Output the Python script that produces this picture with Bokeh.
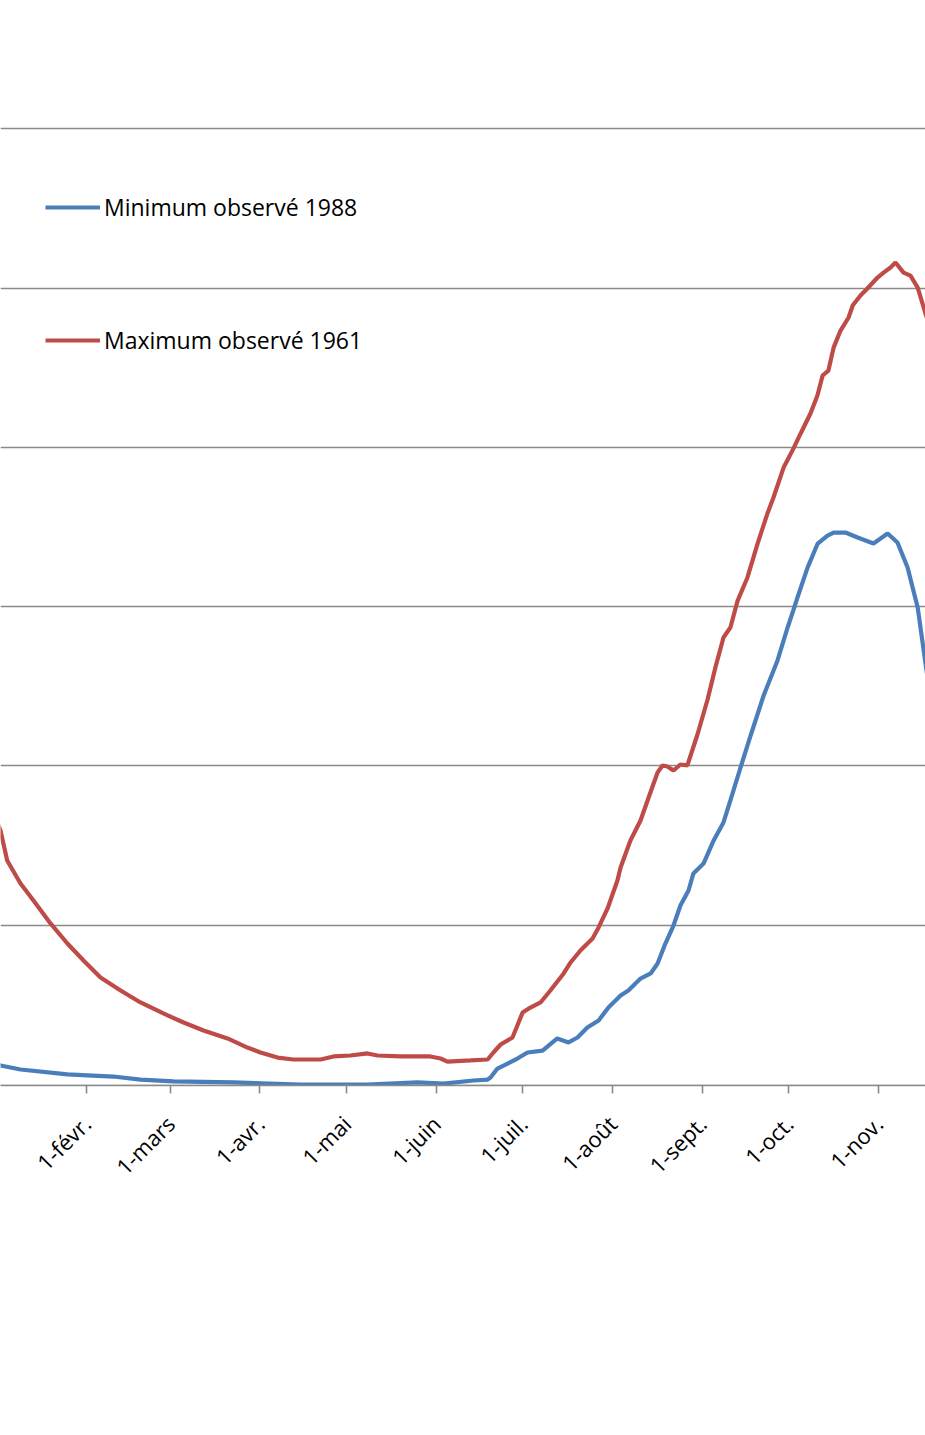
import math
from bokeh.plotting import figure
from bokeh.models import FixedTicker, Grid, Legend, LegendItem, Range1d
from bokeh.embed import file_html
from bokeh.resources import INLINE

# Day of year (0 = 1 Jan, leap year) and values
min_days = [0, 1.25, 8.2, 24.4, 40.3, 49.7, 61.1, 81.9, 105.1, 128.2, 145.5, 154.5, 164.9,
            169.8, 170.8, 173.2, 175.3, 180.1, 183.6, 188.8, 193.9, 197.8, 200.9, 204.3,
            208.2, 211.6, 215.8, 218.5, 222.7, 226.2, 228.6, 231.3, 234.1, 236.5, 239.3,
            241.0, 244.5, 248.0, 251.4, 253.8, 257.3, 260.8, 265.3, 270.1, 273.6, 277.0,
            280.5, 284.0, 287.4, 289.5, 293.6, 297.8, 303.3, 308.2, 311.6, 315.1, 318.6,
            321.3, 323.7]
min_vals = [13.2, 11.9, 9.4, 6.3, 5.0, 3.1, 1.9, 1.3, 0.0, 0.0, 1.3, 0.6, 2.5,
            3.1, 4.4, 10.0, 11.9, 16.3, 20.1, 21.3, 28.9, 26.4, 29.5, 35.8,
            40.2, 48.3, 55.9, 59.0, 66.5, 69.7, 76.0, 88.5, 99.8, 112.4, 121.8,
            132.5, 138.7, 153.2, 164.5, 178.3, 199.0, 219.1, 244.2, 266.2, 286.9, 305.7,
            324.5, 339.6, 344.6, 346.5, 346.5, 343.4, 339.6, 345.9, 340.2, 324.5, 299.4,
            264.3, 234.8]

max_days = [0, 1.25, 3.56, 8.17, 12.66, 18.55, 24.4, 29.97, 35.85, 42.8, 49.7, 57.6, 64.6,
            71.5, 79.8, 86.7, 91.2, 97.1, 102.6, 112.0, 116.5, 122.3, 128.2, 131.7, 139.7,
            150.0, 153.5, 155.9, 163.9, 169.8, 171.8, 174.3, 178.4, 181.9, 184.6, 188.1,
            191.5, 196.1, 198.5, 201.9, 206.1, 208.2, 211.3, 214.7, 215.8, 219.2, 222.7,
            225.5, 228.6, 230.3, 232.0, 234.1, 236.5, 238.9, 242.4, 245.9, 248.6, 251.4,
            253.8, 256.3, 259.7, 263.2, 266.6, 268.7, 272.2, 275.6, 278.1, 281.5, 283.9,
            285.7, 287.7, 289.5, 291.9, 294.7, 296.1, 298.8, 301.2, 304.7, 306.8, 309.2,
            310.9, 313.7, 316.1, 318.6, 321.3, 324.8]
max_vals = [165.0, 159.4, 140.6, 126.2, 115.5, 101.1, 88.5, 77.8, 67.2, 59.0, 51.5, 44.6, 38.9,
            33.9, 28.9, 23.2, 20.1, 16.9, 15.7, 15.7, 17.6, 18.2, 19.5, 18.2, 17.6,
            17.6, 16.3, 14.4, 15.1, 15.7, 20.1, 25.1, 29.5, 45.2, 48.3, 51.5,
            59.0, 69.7, 76.6, 84.1, 91.7, 98.6, 110.5, 128.1, 136.2, 153.2, 165.7,
            180.2, 195.9, 200.3, 199.6, 197.1, 200.9, 200.3, 219.7, 241.7, 261.8, 280.6,
            286.9, 303.8, 318.3, 339.6, 358.4, 368.5, 387.3, 399.2, 408.7, 421.2, 432.5,
            445.1, 448.2, 462.6, 473.3, 481.5, 489.0, 495.3, 499.7, 506.6, 509.7, 512.9,
            516.0, 509.7, 507.8, 500.3, 484.0, 464.0]

month_days = [0, 31, 60, 91, 121, 152, 182, 213, 244, 274, 305, 335]
month_labels = ["1-janv.", "1-févr.", "1-mars", "1-avr.", "1-mai", "1-juin",
                "1-juil.", "1-août", "1-sept.", "1-oct.", "1-nov.", "1-déc."]
grid_values = [100, 200, 300, 400, 500, 600]

GRAY = "#8a8a8a"
FONT = "Open Sans"

p = figure(width=925, height=1435, output_backend="svg", toolbar_location=None,
           x_range=Range1d(1.25, 321.3), y_range=Range1d(-0.63, 680.5),
           y_axis_location=None, min_border_left=0, min_border_right=0,
           min_border_top=0, min_border_bottom=350)
p.outline_line_color = None
p.xgrid.visible = False

ygrid = Grid(dimension=1, ticker=FixedTicker(ticks=grid_values),
             grid_line_color=GRAY, grid_line_width=1.6)
p.add_layout(ygrid)

ax = p.xaxis[0]
ax.ticker = FixedTicker(ticks=month_days)
ax.major_label_overrides = {d: l for d, l in zip(month_days, month_labels)}
ax.major_label_orientation = math.pi / 4
ax.major_label_text_font = FONT
ax.major_label_text_font_size = "22px"
ax.major_label_text_color = "#000000"
ax.axis_line_color = GRAY
ax.axis_line_width = 1.6
ax.major_tick_line_color = GRAY
ax.major_tick_line_width = 1.6
ax.major_tick_in = 0
ax.major_tick_out = 8
ax.minor_tick_line_color = None
ax.major_label_standoff = 26

r_min = p.line(min_days, min_vals, line_color="#4a7ebb", line_width=4.2)
r_max = p.line(max_days, max_vals, line_color="#be4b48", line_width=4.2)

legend = Legend(items=[LegendItem(label="Minimum observé 1988", renderers=[r_min]),
                       LegendItem(label="Maximum observé 1961", renderers=[r_max])],
                location=(45, 729), orientation="vertical",
                glyph_width=55, glyph_height=30, label_height=30, label_standoff=4,
                spacing=101, padding=0, margin=0,
                border_line_color=None, background_fill_alpha=0,
                label_text_font=FONT, label_text_font_size="23px",
                label_text_color="#000000")
p.add_layout(legend)

open("out.html", "w").write(file_html(p, INLINE))
